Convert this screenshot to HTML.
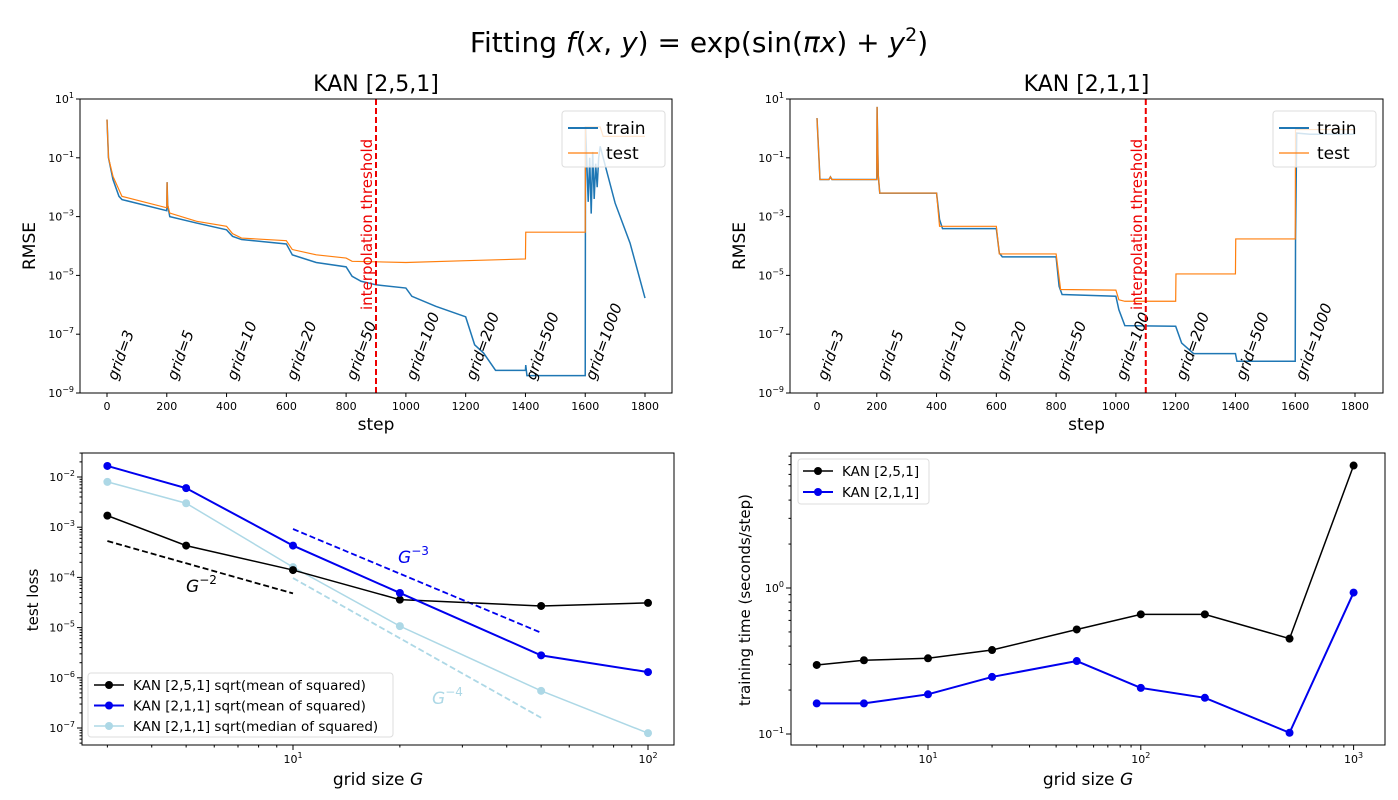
<!DOCTYPE html>
<html><head><meta charset="utf-8"><style>
body{margin:0;background:#fff;}
svg{display:block;font-family:"DejaVu Sans","Liberation Sans",sans-serif;}
</style></head><body>
<svg id="s" width="1398" height="800" viewBox="0 0 1398 800" xmlns="http://www.w3.org/2000/svg">
<text x="699" y="52" font-size="28" text-anchor="middle">Fitting <tspan font-style="italic">f</tspan>(<tspan font-style="italic">x</tspan>, <tspan font-style="italic">y</tspan>) = exp(sin(<tspan font-style="italic">πx</tspan>) + <tspan font-style="italic">y</tspan><tspan dy="-11" font-size="19">2</tspan><tspan dy="11">)</tspan></text>
</svg>
<script>
// ---- data: top-left KAN [2,5,1] (step, log10 RMSE)
const tlTrainSteps=[0,5,20,40,50,200,201,203,210,300,400,420,450,600,620,700,800,820,850,900,1000,1020,1100,1200,1230,1260,1300,1400,1401,1405,1600,1601,1610,1615,1620,1625,1630,1635,1640,1645,1650,1700,1750,1800];
const tlTrainVals=[0.3,-1.0,-1.74,-2.31,-2.42,-2.8,-1.83,-2.6,-3.0,-3.22,-3.45,-3.67,-3.78,-3.93,-4.3,-4.56,-4.71,-5.03,-5.2,-5.32,-5.43,-5.71,-6.05,-6.41,-7.36,-7.64,-8.23,-8.23,-8.05,-8.41,-8.41,0.07,-2.5,-1.0,-2.9,-0.8,-2.4,-1.2,-2.0,-1.0,-0.61,-2.54,-3.9,-5.77];
const tlTestSteps=[0,5,20,50,200,201,203,210,300,400,420,450,600,620,700,800,820,1000,1200,1400,1401,1600,1601,1650,1660,1800];
const tlTestVals=[0.3,-1.0,-1.63,-2.31,-2.7,-1.83,-2.6,-2.88,-3.16,-3.33,-3.58,-3.73,-3.82,-4.12,-4.3,-4.41,-4.52,-4.56,-4.5,-4.44,-3.53,-3.53,0.05,0.05,-0.27,-0.27];
// ---- data: top-right KAN [2,1,1]
const trTrainSteps=[0,10,40,45,50,200,201,205,210,400,410,420,600,610,620,800,810,820,1000,1010,1030,1200,1220,1260,1400,1405,1600,1601,1605,1650,1800];
const trTrainVals=[0.35,-1.74,-1.74,-1.65,-1.74,-1.74,0.73,-1.6,-2.2,-2.2,-3.1,-3.41,-3.41,-4.24,-4.37,-4.37,-5.37,-5.65,-5.71,-6.17,-6.71,-6.73,-7.3,-7.66,-7.66,-7.92,-7.92,-3.78,-0.16,-0.2,-0.2];
const trTestSteps=[0,10,40,45,50,200,201,205,210,400,410,600,610,800,815,1000,1010,1030,1200,1201,1400,1401,1600,1601,1800];
const trTestVals=[0.35,-1.74,-1.74,-1.65,-1.74,-1.74,0.73,-1.6,-2.2,-2.2,-3.33,-3.33,-4.27,-4.27,-5.48,-5.5,-5.83,-5.88,-5.88,-4.95,-4.95,-3.76,-3.76,-0.04,-0.04];
const gridLabels=["grid=3","grid=5","grid=10","grid=20","grid=50","grid=100","grid=200","grid=500","grid=1000"];
const stepTicks=[0,200,400,600,800,1000,1200,1400,1600,1800];
const rmseTicks=[1,-1,-3,-5,-7,-9];
// ---- data: bottom-left test loss
const gridG=[3,5,10,20,50,100];
const lossKan251=[1.7e-3,4.3e-4,1.4e-4,3.6e-5,2.7e-5,3.1e-5];
const lossKan211=[1.66e-2,6e-3,4.3e-4,4.9e-5,2.8e-6,1.3e-6];
const lossKan211Med=[8e-3,3e-3,1.6e-4,1.07e-5,5.5e-7,7.9e-8];
const refG2X=[3,10], refG2Y=[5.3e-4,4.8e-5];
const refG3X=[10,50], refG3Y=[9.2e-4,7.9e-6];
const refG4X=[10,50], refG4Y=[9.7e-5,1.6e-7];
// ---- data: bottom-right training time
const gridT=[3,5,10,20,50,100,200,500,1000];
const timeKan251=[0.297,0.32,0.33,0.376,0.52,0.66,0.66,0.45,6.9];
const timeKan211=[0.162,0.162,0.187,0.246,0.316,0.207,0.177,0.102,0.93];

const NS="http://www.w3.org/2000/svg";
const svg=document.getElementById('s');
function el(tag,attrs,parent){const e=document.createElementNS(NS,tag);for(const k in attrs)e.setAttribute(k,attrs[k]);(parent||svg).appendChild(e);return e;}
function txt(x,y,s,size,anchor,parent){const t=el('text',{x:x,y:y,'font-size':size,'text-anchor':anchor||'middle'},parent);t.textContent=s;return t;}
function supTick(x,y,exp,anchor,parent){const t=el('text',{x:x,y:y,'font-size':11,'text-anchor':anchor},parent);t.innerHTML='10<tspan dy="-5" font-size="8">'+exp+'</tspan>';return t;}

function frame(L,R,T,B,name){const r=el('rect',{x:L,y:T,width:R-L,height:B-T,fill:'none',stroke:'#000','stroke-width':1});}

function topPanel(L,R,T,B,x0,x1,title,trS,trV,teS,teV,thr,name){
  const g=el('g',{});
  
  
  const X=s=>x0+(x1-x0)*s/1800;
  const Y=v=>T+(1-v)*(B-T)/10;
  const ttl=txt((L+R)/2,91,title,22,'middle',g);
  
  
  stepTicks.forEach(s=>{el('line',{x1:X(s),x2:X(s),y1:B,y2:B+4,stroke:'#000'},g);txt(X(s),B+17,String(s),11,'middle',g);});
  rmseTicks.forEach(v=>{el('line',{x1:L-4,x2:L,y1:Y(v),y2:Y(v),stroke:'#000'},g);supTick(L-6,Y(v)+4,v<0?'−'+(-v):v,'end',g);});
  const xl=txt((L+R)/2,430,'step',17,'middle',g);
  
  
  const yl=txt(0,0,'RMSE',17,'middle',g);yl.setAttribute('transform','translate('+(L-45)+','+((T+B)/2)+') rotate(-90)');
  
  
  const p1=el('polyline',{points:trS.map((s,i)=>X(s)+','+Y(trV[i])).join(' '),fill:'none',stroke:'#1f77b4','stroke-width':1.5},g);
  
  
  const p2=el('polyline',{points:teS.map((s,i)=>X(s)+','+Y(teV[i])).join(' '),fill:'none',stroke:'#ff7f0e','stroke-width':1.2},g);
  
  
  gridLabels.forEach((s,i)=>{const t=txt(0,0,s,15,'start',g);t.setAttribute('font-style','italic');t.setAttribute('transform','translate('+X(i*200+32)+','+(B-12)+') rotate(-70)');
    
    });
  const th=el('line',{x1:X(thr),x2:X(thr),y1:T,y2:B,stroke:'#e00','stroke-width':2,'stroke-dasharray':'6,3'},g);
  
  
  const tt=txt(0,0,'interpolation threshold',15,'start',g);tt.setAttribute('fill','#e00');tt.setAttribute('transform','translate('+(X(thr)-4)+',310) rotate(-90)');
  
  
  const lg=el('g',{},g);
  
  
  el('rect',{x:R-110,y:T+12,width:103,height:56,fill:'#fff','fill-opacity':0.8,stroke:'#ddd',rx:3},lg);
  el('line',{x1:R-104,x2:R-74,y1:T+29,y2:T+29,stroke:'#1f77b4','stroke-width':2},lg);
  el('line',{x1:R-104,x2:R-74,y1:T+54,y2:T+54,stroke:'#ff7f0e','stroke-width':1.2},lg);
  txt(R-66,T+35,'train',17,'start',lg);txt(R-66,T+60,'test',17,'start',lg);
  frame(L,R,T,B,'plot-frame');
}
topPanel(80,672,99,393,107,645,'KAN [2,5,1]',tlTrainSteps,tlTrainVals,tlTestSteps,tlTestVals,900,'panel-kan-251-rmse');
topPanel(790,1383,99,393,817,1355,'KAN [2,1,1]',trTrainSteps,trTrainVals,trTestSteps,trTestVals,1100,'panel-kan-211-rmse');

(function(){
  const L=82,R=674,T=453,B=745;
  const g=el('g',{});
  
  
  const X=v=>293+355*Math.log10(v/10);
  const Y=v=>477+50.2*(-2-Math.log10(v));
  [10,100].forEach((v,i)=>{el('line',{x1:X(v),x2:X(v),y1:B,y2:B+5,stroke:'#000'},g);supTick(X(v),B+18,i+1,'middle',g);});
  [3,4,5,6,7,8,9,20,30,40,50,60,70,80,90].forEach(v=>el('line',{x1:X(v),x2:X(v),y1:B,y2:B+2.5,stroke:'#000'},g));
  for(let e=-2;e>=-7;e--){const y=Y(Math.pow(10,e));el('line',{x1:L-5,x2:L,y1:y,y2:y,stroke:'#000'},g);supTick(L-7,y+4,'−'+(-e),'end',g);
    for(let m=2;m<10;m++){const ym=Y(m*Math.pow(10,e));if(ym>T&&ym<B)el('line',{x1:L-2.5,x2:L,y1:ym,y2:ym,stroke:'#000'},g);}}
  for(let m=2;m<10;m++){const ym=Y(m*1e-8);if(ym>T&&ym<B)el('line',{x1:L-2.5,x2:L,y1:ym,y2:ym,stroke:'#000'},g);}
  const xl=txt((L+R)/2,785,'',17,'middle',g);xl.innerHTML='grid size <tspan font-style="italic">G</tspan>';
  
  
  const yl=txt(0,0,'test loss',15,'middle',g);yl.setAttribute('transform','translate(38,600) rotate(-90)');
  
  
  function ref(xs,ys,c,name){const l=el('line',{x1:X(xs[0]),y1:Y(ys[0]),x2:X(xs[1]),y2:Y(ys[1]),stroke:c,'stroke-width':1.8,'stroke-dasharray':'6,3'},g);
    
    }
  ref(refG2X,refG2Y,'#000','ref-line-g2');ref(refG3X,refG3Y,'#0000ee','ref-line-g3');ref(refG4X,refG4Y,'#add8e6','ref-line-g4');
  function lab(x,y,e,c){const t=el('text',{x:x,y:y,'font-size':17,fill:c},g);t.innerHTML='<tspan font-style="italic">G</tspan><tspan dy="-8" font-size="12">−'+e+'</tspan>';
    
    }
  lab(186,592,2,'#000');lab(398,563,3,'#0000ee');lab(432,704,4,'#add8e6');
  function series(ys,c,w,name){const sg=el('g',{},g);
    
    
    el('polyline',{points:gridG.map((x,i)=>X(x)+','+Y(ys[i])).join(' '),fill:'none',stroke:c,'stroke-width':w},sg);
    gridG.forEach((x,i)=>{const d=el('circle',{cx:X(x),cy:Y(ys[i]),r:4,fill:c},sg);
      
      });}
  series(lossKan211Med,'#add8e6',1.5,'series-kan-211-median');
  series(lossKan251,'#000',1.5,'series-kan-251-mean');
  series(lossKan211,'#0000ee',2,'series-kan-211-mean');
  const lg=el('g',{},g);
  
  
  el('rect',{x:88,y:673,width:305,height:64,fill:'#fff','fill-opacity':0.8,stroke:'#ddd',rx:3},lg);
  [['#000','KAN [2,5,1] sqrt(mean of squared)',1.5],['#0000ee','KAN [2,1,1] sqrt(mean of squared)',2],['#add8e6','KAN [2,1,1] sqrt(median of squared)',1.5]].forEach((e,i)=>{
    const y=685+i*20.5;el('line',{x1:94,x2:124,y1:y,y2:y,stroke:e[0],'stroke-width':e[2]},lg);el('circle',{cx:109,cy:y,r:4,fill:e[0]},lg);txt(133,y+5,e[1],13.5,'start',lg);});
  frame(L,R,T,B,'plot-frame');
})();

(function(){
  const L=791,R=1385,T=453,B=745;
  const g=el('g',{});
  
  
  const X=v=>928+212.8*Math.log10(v/10);
  const Y=v=>588-146*Math.log10(v);
  [10,100,1000].forEach((v,i)=>{el('line',{x1:X(v),x2:X(v),y1:B,y2:B+5,stroke:'#000'},g);supTick(X(v),B+18,i+1,'middle',g);});
  [3,4,5,6,7,8,9,20,30,40,50,60,70,80,90,200,300,400,500,600,700,800,900].forEach(v=>el('line',{x1:X(v),x2:X(v),y1:B,y2:B+2.5,stroke:'#000'},g));
  [[1,'0'],[0.1,'−1']].forEach(a=>{const y=Y(a[0]);el('line',{x1:L-5,x2:L,y1:y,y2:y,stroke:'#000'},g);supTick(L-7,y+4,a[1],'end',g);});
  [0.2,0.3,0.4,0.5,0.6,0.7,0.8,0.9,2,3,4,5,6,7,8,9].forEach(v=>{const y=Y(v);if(y>T&&y<B)el('line',{x1:L-2.5,x2:L,y1:y,y2:y,stroke:'#000'},g);});
  const xl=txt((L+R)/2,785,'',17,'middle',g);xl.innerHTML='grid size <tspan font-style="italic">G</tspan>';
  
  
  const yl=txt(0,0,'training time (seconds/step)',15,'middle',g);yl.setAttribute('transform','translate(750,600) rotate(-90)');
  
  
  function series(ys,c,w,name){const sg=el('g',{},g);
    
    
    el('polyline',{points:gridT.map((x,i)=>X(x)+','+Y(ys[i])).join(' '),fill:'none',stroke:c,'stroke-width':w},sg);
    gridT.forEach((x,i)=>{const d=el('circle',{cx:X(x),cy:Y(ys[i]),r:4,fill:c},sg);
      
      });}
  series(timeKan251,'#000',1.5,'series-kan-251');
  series(timeKan211,'#0000ee',2,'series-kan-211');
  const lg=el('g',{},g);
  
  
  el('rect',{x:798,y:459,width:131,height:45,fill:'#fff','fill-opacity':0.8,stroke:'#ddd',rx:3},lg);
  [['#000','KAN [2,5,1]',1.5],['#0000ee','KAN [2,1,1]',2]].forEach((e,i)=>{
    const y=471+i*21;el('line',{x1:803,x2:833,y1:y,y2:y,stroke:e[0],'stroke-width':e[2]},lg);el('circle',{cx:818,cy:y,r:4,fill:e[0]},lg);txt(842,y+5,e[1],13.5,'start',lg);});
  frame(L,R,T,B,'plot-frame');
})();
</script>
</body></html>
